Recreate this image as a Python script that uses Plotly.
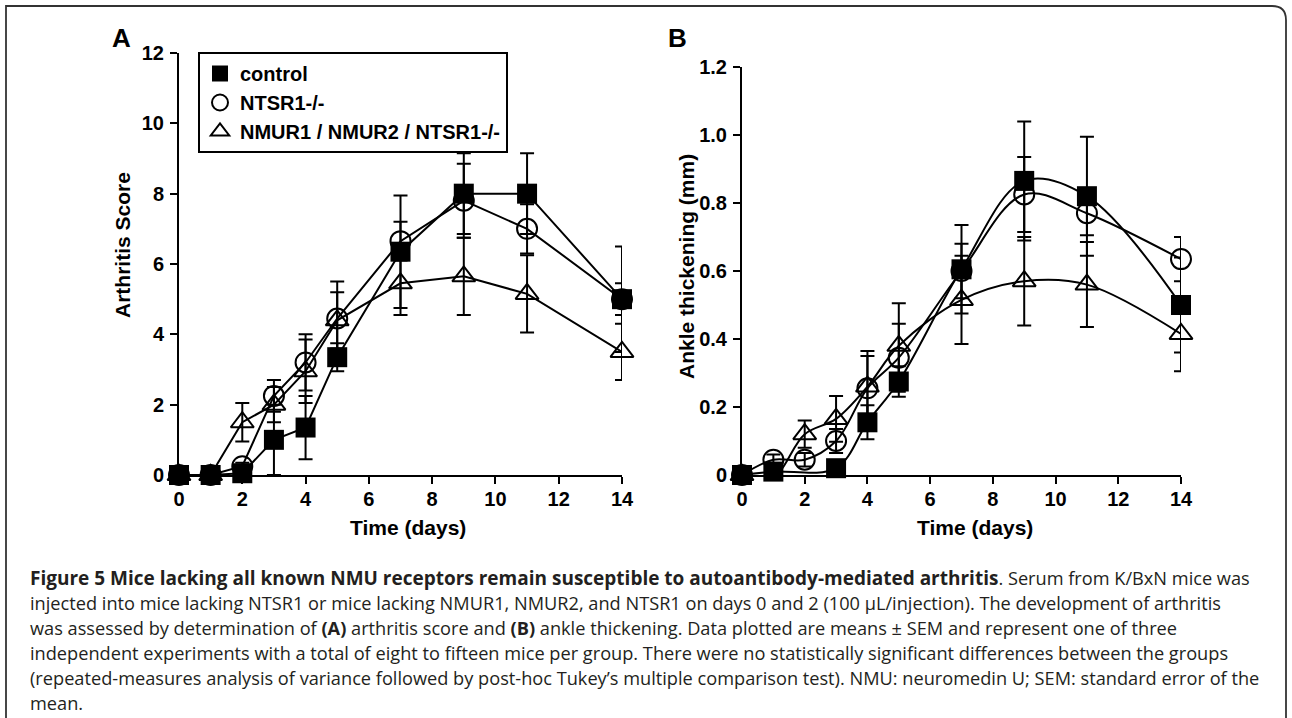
import plotly.graph_objects as go

# ---------------- data ----------------
DAYS = [0, 1, 2, 3, 4, 5, 7, 9, 11, 14]
SERIES_NAMES = ["control", "NTSR1-/-", "NMUR1 / NMUR2 / NTSR1-/-"]

# Panel A: arthritis score (mean, SEM)
A_CONTROL = [0, 0, 0.05, 1.0, 1.35, 3.35, 6.35, 8.0, 8.0, 5.0]
A_CONTROL_SEM = [0, 0, 0.05, 1.0, 0.9, 0.4, 1.6, 1.15, 1.15, 1.5]
A_NTSR1 = [0, 0, 0.25, 2.25, 3.2, 4.45, 6.65, 7.8, 7.0, 5.0]
A_NTSR1_SEM = [0, 0, 0.1, 0.45, 0.8, 1.05, 0.55, 1.05, 0.7, 0.45]
A_TKO = [0, 0, 1.5, 2.0, 2.95, 4.4, 5.45, 5.65, 5.15, 3.5]
A_TKO_SEM = [0, 0, 0.55, 0.5, 0.9, 0.8, 0.9, 1.1, 1.1, 0.8]

# Panel B: ankle thickening in mm (mean, SEM)
B_CONTROL = [0, 0.01, None, 0.02, 0.155, 0.275, 0.605, 0.865, 0.82, 0.50]
B_CONTROL_SEM = [0, 0.01, None, 0.015, 0.05, 0.045, 0.13, 0.175, 0.175, 0.14]
B_NTSR1 = [0, 0.045, 0.045, 0.10, 0.255, 0.345, 0.60, 0.825, 0.77, 0.635]
B_NTSR1_SEM = [0, 0.015, 0.02, 0.035, 0.11, 0.1, 0.08, 0.11, 0.065, 0.065]
B_TKO = [0, -0.005, 0.12, 0.165, 0.26, 0.38, 0.515, 0.57, 0.56, 0.415]
B_TKO_SEM = [0, 0.005, 0.04, 0.067, 0.09, 0.125, 0.13, 0.13, 0.125, 0.11]

X_TICKS = [0, 2, 4, 6, 8, 10, 12, 14]
A_Y_TICKS = [0, 2, 4, 6, 8, 10, 12]
B_Y_TICKS = [0, 0.2, 0.4, 0.6, 0.8, 1.0, 1.2]
B_Y_TICKTEXT = ["0", "0.2", "0.4", "0.6", "0.8", "1.0", "1.2"]

CAPTION_LINES = [
    "<span style='font-size:19px'><b>Figure 5 Mice lacking all known NMU receptors remain susceptible to autoantibody-mediated arthritis</b></span>. Serum from K/BxN mice was",
    "injected into mice lacking NTSR1 or mice lacking NMUR1, NMUR2, and NTSR1 on days 0 and 2 (100 \u00b5L/injection). The development of arthritis",
    "was assessed by determination of <b>(A)</b> arthritis score and <b>(B)</b> ankle thickening. Data plotted are means \u00b1 SEM and represent one of three",
    "independent experiments with a total of eight to fifteen mice per group. There were no statistically significant differences between the groups",
    "(repeated-measures analysis of variance followed by post-hoc Tukey\u2019s multiple comparison test). NMU: neuromedin U; SEM: standard error of the",
    "mean.",
]

# ---------------- layout helpers ----------------
W, H = 1292, 718


def px(x):
    return x / W


def py(y):
    return 1 - y / H


ARIAL = "Liberation Sans, Arial, sans-serif"
AX_FONT = dict(family=ARIAL, size=20, color="black", weight="bold")
BLACK = "black"

MARKERS = [
    dict(symbol="square", size=20, color=BLACK, line=dict(width=0)),
    dict(symbol="circle-open", size=20, color=BLACK, line=dict(width=2, color=BLACK)),
    dict(symbol="triangle-up-open", size=20, color=BLACK, line=dict(width=2, color=BLACK)),
]

fig = go.Figure()

panels = [
    ("x", "y", [A_TKO, A_NTSR1, A_CONTROL], [A_TKO_SEM, A_NTSR1_SEM, A_CONTROL_SEM], "linear"),
    ("x2", "y2", [B_TKO, B_NTSR1, B_CONTROL], [B_TKO_SEM, B_NTSR1_SEM, B_CONTROL_SEM], "spline"),
]
order = [2, 1, 0]  # draw triangles first, control on top

for xa, ya, vals, sems, shape in panels:
    for k, (v, s) in enumerate(zip(vals, sems)):
        idx = order[k]
        fig.add_trace(go.Scatter(
            x=DAYS, y=v, xaxis=xa, yaxis=ya,
            mode="lines+markers",
            line=dict(color=BLACK, width=2, shape=shape, smoothing=1.0),
            marker=MARKERS[idx],
            error_y=dict(type="data", array=s, visible=True, color=BLACK, thickness=2, width=7),
            connectgaps=True,
            cliponaxis=False,
            showlegend=False,
            name=SERIES_NAMES[idx],
            hoverinfo="skip",
        ))

# legend-only entries (symbol only, like the original)
for i, name in enumerate(SERIES_NAMES):
    m = dict(MARKERS[i], size=16)
    fig.add_trace(go.Scatter(
        x=[None], y=[None], mode="markers", marker=m, name=name,
        xaxis="x", yaxis="y", showlegend=True,
    ))

axis_common = dict(
    showline=True, linecolor=BLACK, linewidth=2,
    ticks="outside", ticklen=7, tickwidth=2, tickcolor=BLACK,
    showgrid=False, zeroline=False, tickfont=AX_FONT, fixedrange=True,
    automargin=False,
)

fig.update_layout(
    width=W, height=H,
    margin=dict(l=0, r=0, t=0, b=0, autoexpand=False),
    paper_bgcolor="white", plot_bgcolor="white",
    xaxis=dict(axis_common, domain=[px(179), px(622)], range=[0, 14], tickvals=X_TICKS,
               anchor="y", ticklabelstandoff=-2),
    yaxis=dict(axis_common, domain=[py(475), py(53)], range=[0, 12], tickvals=A_Y_TICKS,
               anchor="x", ticklabelstandoff=2),
    xaxis2=dict(axis_common, domain=[px(742), px(1181)], range=[0, 14], tickvals=X_TICKS,
                anchor="y2", ticklabelstandoff=-2),
    yaxis2=dict(axis_common, domain=[py(475), py(67)], range=[0, 1.2], tickvals=B_Y_TICKS,
                ticktext=B_Y_TICKTEXT, anchor="x2", ticklabelstandoff=2),
    showlegend=True,
    legend=dict(
        x=px(198), y=py(52), xanchor="left", yanchor="top",
        bordercolor=BLACK, borderwidth=2, bgcolor="white",
        font=dict(family=ARIAL, size=20, color=BLACK, weight="bold"),
        tracegroupgap=0, itemclick=False, itemdoubleclick=False,
    ),
)


def label(x, y, text, font, angle=0):
    return dict(x=px(x), y=py(y), text=text, showarrow=False, xref="paper", yref="paper",
                xanchor="center", yanchor="middle", textangle=angle, font=font)


annos = []
letter_font = dict(family=ARIAL, size=26, color=BLACK)
annos.append(label(121, 38, "<b>A</b>", letter_font))
annos.append(label(677, 38, "<b>B</b>", letter_font))
title_font = dict(family=ARIAL, size=21, color=BLACK)
annos.append(label(408, 527, "<b>Time (days)</b>", title_font))
annos.append(label(975, 527, "<b>Time (days)</b>", title_font))
annos.append(label(123, 245, "<b>Arthritis Score</b>", title_font, -90))
annos.append(label(687, 267, "<b>Ankle thickening (mm)</b>", title_font, -90))

cap_font = dict(family="Open Sans, Noto Sans, sans-serif", size=18.2, color="#231f20")
for i, line in enumerate(CAPTION_LINES):
    annos.append(dict(x=px(28), y=py(578 + 25 * i), text=line, showarrow=False, xanchor="left",
                      yanchor="middle", xref="paper", yref="paper", font=cap_font, align="left"))
fig.update_layout(annotations=annos)

# outer frame with rounded top-right corner
r = 14
path = (f"M {px(6)},{py(H + 2)} L {px(6)},{py(6)} L {px(1286 - r)},{py(6)} "
        f"Q {px(1286)},{py(6)} {px(1286)},{py(6 + r)} L {px(1286)},{py(H + 2)}")
fig.add_shape(type="path", path=path, xref="paper", yref="paper",
              line=dict(color="#333333", width=1.8), layer="above")

fig.write_html(
    "out.html",
    config={"displayModeBar": False, "staticPlot": True},
    post_script="document.body.style.margin='0';document.body.style.overflow='hidden';",
)
